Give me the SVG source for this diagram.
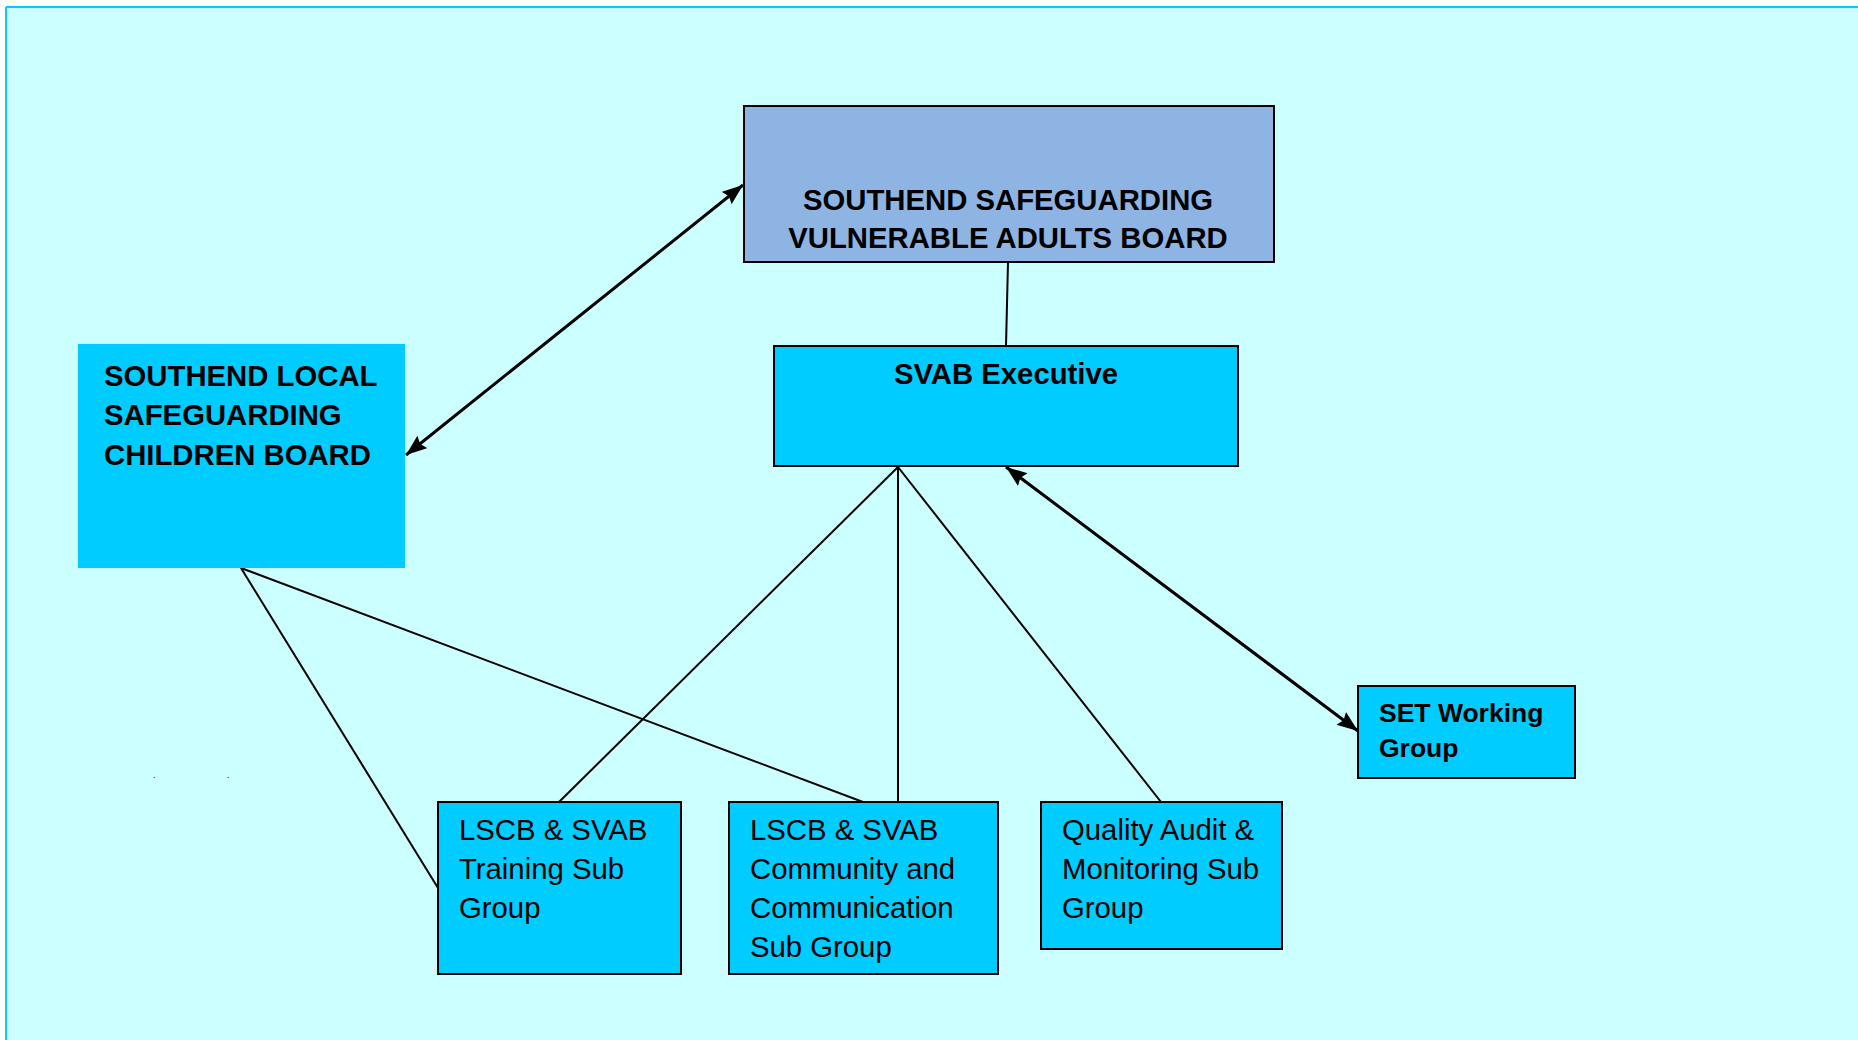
<svg xmlns="http://www.w3.org/2000/svg" width="1858" height="1040" viewBox="0 0 1858 1040">
<style>
.box{fill:#00CCFF;stroke:#000;stroke-width:2}
.b{font-family:"Liberation Sans",Arial,sans-serif;font-weight:bold;font-size:29.3px;fill:#000}
.r{font-family:"Liberation Sans",Arial,sans-serif;font-size:29.3px;fill:#000}
.ln{stroke:#000;stroke-width:2;fill:none}
.ar{stroke:#000;stroke-width:3;fill:none;marker-start:url(#ah);marker-end:url(#ah)}
</style>
<defs>
<marker id="ah" markerUnits="userSpaceOnUse" markerWidth="24" markerHeight="18" refX="21" refY="8" orient="auto-start-reverse">
<path d="M0,0 L21,8 L0,16 L3,8 z" fill="#000"/>
</marker>
</defs>
<rect x="0" y="0" width="1858" height="1040" fill="#fff"/>
<rect x="6" y="7" width="1852" height="1033" fill="#CCFFFF"/>
<line x1="6" y1="7" x2="1858" y2="7" stroke="#00CCFF" stroke-width="2"/>
<line x1="6" y1="7" x2="6" y2="1040" stroke="#00CCFF" stroke-width="2"/>
<g id="connectors">
<line class="ln" x1="1008" y1="262" x2="1006" y2="346"/>
<line class="ln" x1="898" y1="467" x2="559" y2="802"/>
<line class="ln" x1="898" y1="467" x2="898" y2="802"/>
<line class="ln" x1="898" y1="467" x2="1161" y2="802"/>
<line class="ln" x1="241" y1="568" x2="438" y2="888"/>
<line class="ln" x1="241" y1="568" x2="863" y2="802"/>
<line class="ar" x1="406" y1="455" x2="743" y2="185"/>
<line class="ar" x1="1006" y1="467" x2="1358" y2="731"/>
</g>
<g id="svab-board">
<rect x="744" y="106" width="530" height="156" fill="#8EB4E3" stroke="#000" stroke-width="2"/>
<text class="b" x="1008" y="210" text-anchor="middle">SOUTHEND SAFEGUARDING</text>
<text class="b" x="1008" y="248" text-anchor="middle">VULNERABLE ADULTS BOARD</text>
</g>
<g id="svab-exec">
<rect class="box" x="774" y="346" width="464" height="120"/>
<text class="b" x="1006" y="384" text-anchor="middle">SVAB Executive</text>
</g>
<g id="lscb">
<rect x="78" y="344" width="327" height="224" fill="#00CCFF"/>
<text class="b" x="104" y="386">SOUTHEND LOCAL</text>
<text class="b" x="104" y="425">SAFEGUARDING</text>
<text class="b" x="104" y="465">CHILDREN BOARD</text>
</g>
<g id="set">
<rect class="box" x="1358" y="686" width="217" height="92"/>
<text class="b" x="1379" y="722" style="font-size:26.5px">SET Working</text>
<text class="b" x="1379" y="757" style="font-size:26.5px">Group</text>
</g>
<g id="training">
<rect class="box" x="438" y="802" width="243" height="172"/>
<text class="r" x="459" y="840">LSCB &amp; SVAB</text>
<text class="r" x="459" y="879">Training Sub</text>
<text class="r" x="459" y="918">Group</text>
</g>
<g id="community">
<rect class="box" x="729" y="802" width="269" height="172"/>
<text class="r" x="750" y="840">LSCB &amp; SVAB</text>
<text class="r" x="750" y="879">Community and</text>
<text class="r" x="750" y="918">Communication</text>
<text class="r" x="750" y="957">Sub Group</text>
</g>
<g id="quality">
<rect class="box" x="1041" y="802" width="241" height="147"/>
<text class="r" x="1062" y="840">Quality Audit &amp;</text>
<text class="r" x="1062" y="879">Monitoring Sub</text>
<text class="r" x="1062" y="918">Group</text>
</g>
<g id="dots">
<text class="r" x="153" y="778" style="font-size:9px">.</text>
<text class="r" x="227" y="778" style="font-size:9px">.</text>
</g>
</svg>
